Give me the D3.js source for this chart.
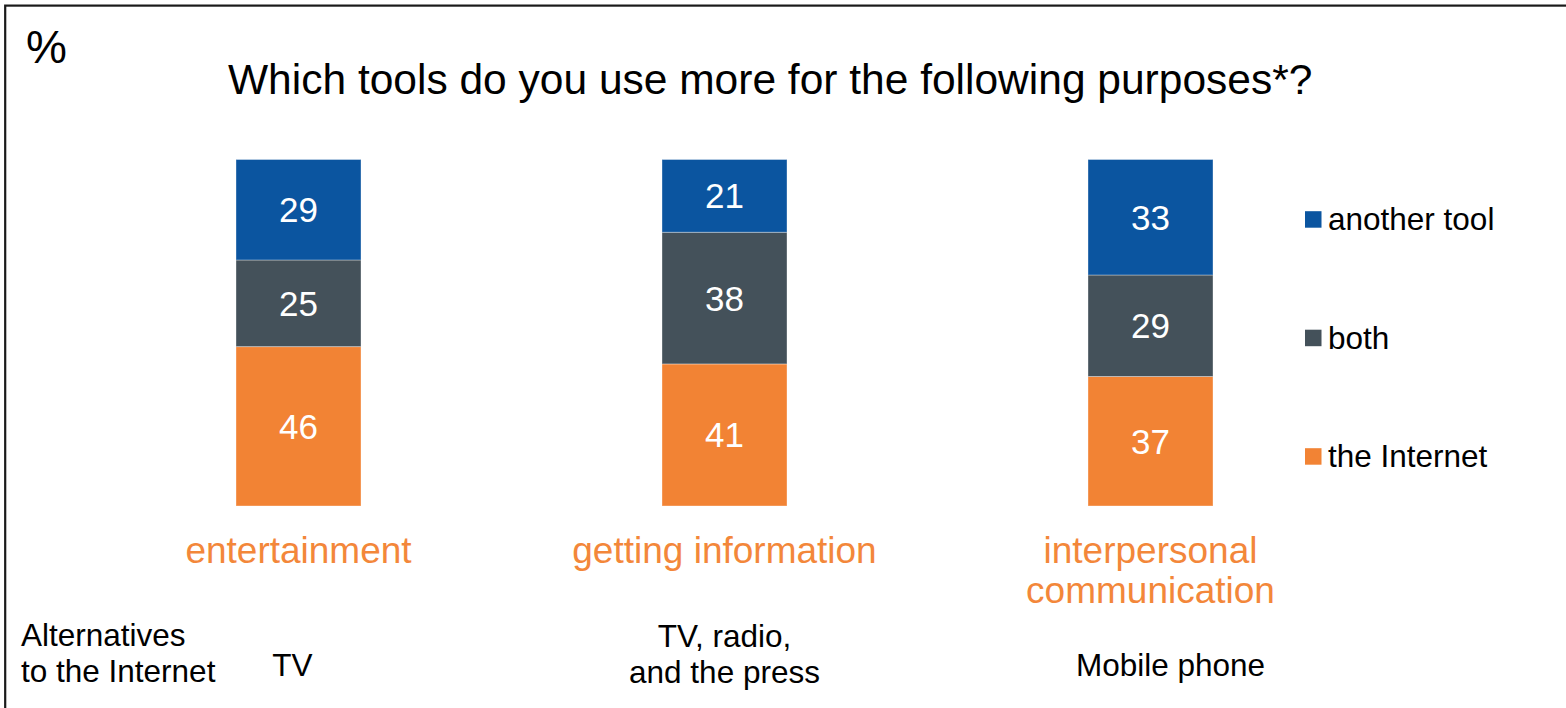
<!DOCTYPE html>
<html>
<head>
<meta charset="utf-8">
<script src="https://cdn.jsdelivr.net/npm/d3@7/dist/d3.min.js"></script>
<style>
  html, body { margin: 0; padding: 0; background: #fff; }
  svg { display: block; font-family: "Liberation Sans", Arial, Helvetica, sans-serif; }
</style>
</head>
<body>
<svg id="chart" width="1566" height="708"></svg>
<script>
// Survey shares (%), one value per purpose
const categories = ["entertainment", "getting information", "interpersonal communication"];
const categoryLines = [["entertainment"], ["getting information"], ["interpersonal", "communication"]];
const seriesNames = ["the Internet", "both", "another tool"];
const internetValues = [46, 41, 37];
const bothValues = [25, 38, 29];
const anotherToolValues = [29, 21, 33];
const alternatives = [["TV"], ["TV, radio,", "and the press"], ["Mobile phone"]];
const titleText = "Which tools do you use more for the following purposes*?";
const unitLabel = "%";
const alternativesLabel = ["Alternatives", "to the Internet"];

const colors = {
  "the Internet": "#F28334",
  "both": "#44515A",
  "another tool": "#0B55A0"
};
const orangeText = "#F3873A";

const svg = d3.select("#chart");
const W = 1566, H = 708;

// Frame
svg.append("rect")
  .attr("x", 5.2).attr("y", 5.6)
  .attr("width", W + 20).attr("height", H + 20)
  .attr("fill", "none").attr("stroke", "#1a1a1a").attr("stroke-width", 2.2);

// Unit marker and title
svg.append("text").attr("x", 26).attr("y", 63)
  .attr("font-size", 46).attr("fill", "#000").text(unitLabel);

svg.append("text").attr("x", 228).attr("y", 94)
  .attr("font-size", 42.5).attr("fill", "#000").text(titleText);

// Scales: each bar is drawn as a 100% stack
const x = d3.scalePoint().domain(categories).range([298.5, 1150.5]);
const barWidth = 125;
const y = d3.scaleLinear().domain([0, 1]).range([506, 159.5]);

const rows = categories.map((c, i) => ({
  category: c,
  "the Internet": internetValues[i],
  "both": bothValues[i],
  "another tool": anotherToolValues[i]
}));
const stacked = d3.stack().keys(seriesNames).offset(d3.stackOffsetExpand)(rows);

const layers = svg.append("g").selectAll("g")
  .data(stacked).join("g")
  .attr("fill", d => colors[d.key]);

layers.selectAll("rect")
  .data(d => d)
  .join("rect")
  .attr("x", d => x(d.data.category) - barWidth / 2)
  .attr("y", d => y(d[1]))
  .attr("width", barWidth)
  .attr("height", d => y(d[0]) - y(d[1]))
  .attr("stroke", "rgba(255,255,255,0.35)")
  .attr("stroke-width", 1);

// Value labels inside segments
layers.selectAll("text")
  .data(d => d.map(v => ({ v, key: d.key })))
  .join("text")
  .attr("x", d => x(d.v.data.category))
  .attr("y", d => (y(d.v[0]) + y(d.v[1])) / 2 + 12.5)
  .attr("text-anchor", "middle")
  .attr("font-size", 35)
  .attr("fill", "#fff")
  .text(d => d.v.data[d.key]);

// Category labels
const catG = svg.append("g");
categories.forEach((c, i) => {
  const t = catG.append("text")
    .attr("text-anchor", "middle")
    .attr("font-size", 37)
    .attr("fill", orangeText);
  categoryLines[i].forEach((line, j) => {
    t.append("tspan").attr("x", x(c)).attr("y", 563 + j * 40).text(line);
  });
});

// Alternatives row
const altG = svg.append("g").attr("font-size", 31.5).attr("fill", "#000");
const alt0 = altG.append("text").attr("x", 21);
alternativesLabel.forEach((line, j) => {
  alt0.append("tspan").attr("x", 21).attr("y", 646 + j * 36).text(line);
});
const altOffsets = [-6, 0, 20];
const altBaselines = [676, 647, 676];
categories.forEach((c, i) => {
  const t = altG.append("text").attr("text-anchor", "middle");
  alternatives[i].forEach((line, j) => {
    t.append("tspan")
      .attr("x", x(c) + altOffsets[i])
      .attr("y", altBaselines[i] + j * 36)
      .text(line);
  });
});

// Legend (top to bottom: another tool, both, the Internet)
const legendOrder = seriesNames.slice().reverse();
const legendY = d3.scalePoint().domain(legendOrder).range([219.5, 456.5]);
const legend = svg.append("g").selectAll("g")
  .data(legendOrder).join("g")
  .attr("transform", d => `translate(1305, ${legendY(d)})`);
legend.append("rect")
  .attr("x", 0).attr("y", -8.3).attr("width", 16.5).attr("height", 16.5)
  .attr("fill", d => colors[d]);
legend.append("text")
  .attr("x", 23).attr("y", 10.5)
  .attr("font-size", 31.5).attr("fill", "#000")
  .text(d => d);
</script>
</body>
</html>
